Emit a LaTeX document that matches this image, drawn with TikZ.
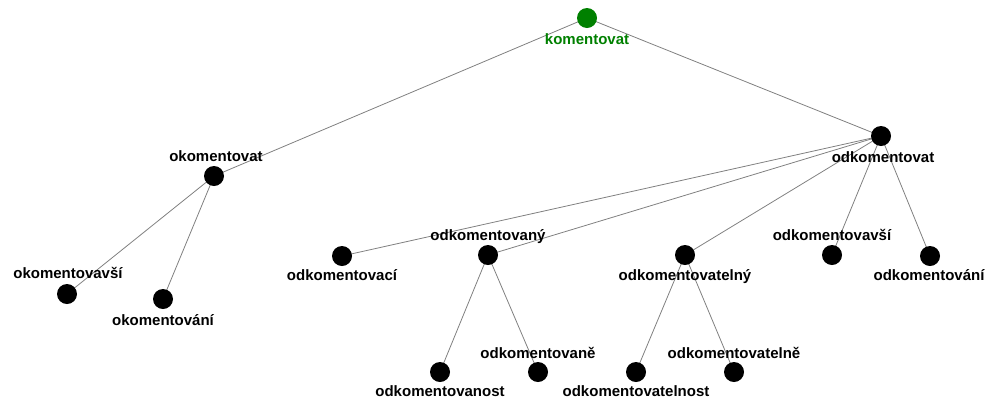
\documentclass[tikz,border=0pt]{standalone}
\usepackage{fontspec}
\setmainfont{Liberation Sans}
\begin{document}
\begin{tikzpicture}[x=1pt,y=-1pt,
  dot/.style={circle,fill=black,inner sep=0pt,minimum size=20pt},
  rootdot/.style={dot,fill=green!50!black},
  lbl/.style={font=\fontsize{15}{15}\selectfont\bfseries,inner sep=0pt,text height=11pt,text depth=3pt},
  rootlbl/.style={lbl,text=green!50!black},
  edge/.style={draw=gray,line width=0.8pt}]
\useasboundingbox (0,0) rectangle (990,400);
% circles (coordinates)
\coordinate (k) at (587,18);
\coordinate (ok) at (214,176);
\coordinate (odk) at (881,136);
\coordinate (okv) at (67,294);
\coordinate (oki) at (163,299);
\coordinate (oci) at (342,256);
\coordinate (ony) at (488,255);
\coordinate (ely) at (685,255);
\coordinate (ovs) at (832,255);
\coordinate (ovi) at (930,256);
\coordinate (ost) at (440,372);
\coordinate (one) at (538,372);
\coordinate (elst) at (636,372);
\coordinate (ele) at (734,372);
% edges
\draw[edge] (k) -- (ok);
\draw[edge] (k) -- (odk);
\draw[edge] (ok) -- (okv);
\draw[edge] (ok) -- (oki);
\draw[edge] (odk) -- (oci);
\draw[edge] (odk) -- (ony);
\draw[edge] (odk) -- (ely);
\draw[edge] (odk) -- (ovs);
\draw[edge] (odk) -- (ovi);
\draw[edge] (ony) -- (ost);
\draw[edge] (ony) -- (one);
\draw[edge] (ely) -- (elst);
\draw[edge] (ely) -- (ele);
% dots
\node[rootdot] (nk) at (k) {};
\foreach \c in {ok,odk,okv,oki,oci,ony,ely,ovs,ovi,ost,one,elst,ele}
  \node[dot] (n\c) at (\c) {};
% labels
\node[rootlbl] (lk) at (587,40) {komentovat};
\node[lbl] (lok) at (216,157) {okomentovat};
\node[lbl] (lodk) at (883,158) {odkomentovat};
\node[lbl] (lokv) at (68,274) {okomentovavší};
\node[lbl] (loki) at (163,321) {okomentování};
\node[lbl] (loci) at (342,276) {odkomentovací};
\node[lbl] (lony) at (488,236) {odkomentovaný};
\node[lbl] (lely) at (685,276) {odkomentovatelný};
\node[lbl] (lovs) at (832,236) {odkomentovavší};
\node[lbl] (lovi) at (929,276) {odkomentování};
\node[lbl] (lost) at (440,392) {odkomentovanost};
\node[lbl] (lone) at (538,354) {odkomentovaně};
\node[lbl] (lelst) at (636,392) {odkomentovatelnost};
\node[lbl] (lele) at (734,354) {odkomentovatelně};
\end{tikzpicture}
\end{document}
